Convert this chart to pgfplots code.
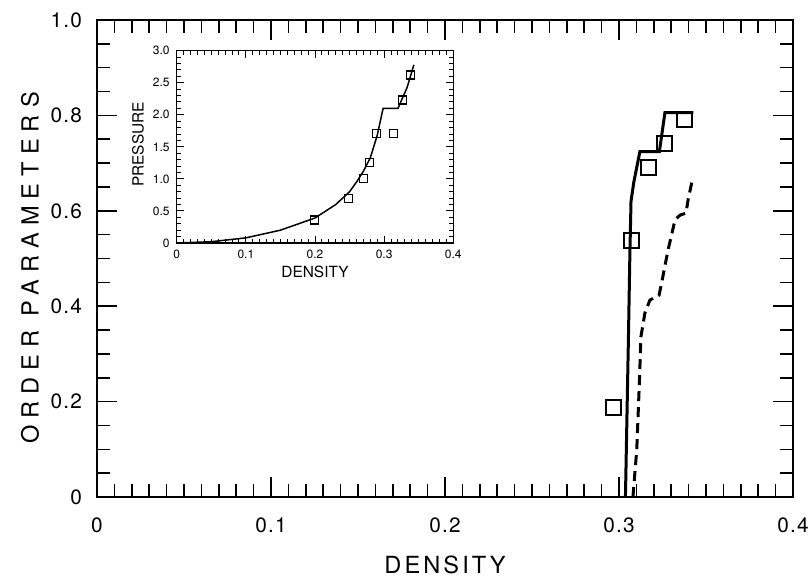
\documentclass[border=0pt]{standalone}
\usepackage{fontspec}
\setmainfont{TeX Gyre Heros}
\newfontfamily\tickfont{TeX Gyre Heros}[LetterSpace=6]
\newfontfamily\labfont{TeX Gyre Heros}[LetterSpace=13]
\newfontfamily\ylabfont{TeX Gyre Heros}[LetterSpace=30]
\usepackage{pgfplots}
\pgfplotsset{compat=1.18}
\begin{document}
\begin{tikzpicture}
\useasboundingbox (0pt,0pt) rectangle (406pt,289pt);
\begin{axis}[
  at={(48.5pt,40.5pt)}, anchor=south west, scale only axis,
  width=348pt, height=238.5pt,
  xmin=0, xmax=0.4, ymin=0, ymax=1,
  xtick={0,0.1,0.2,0.3,0.4}, xticklabels={0,0.1,0.2,0.3,0.4},
  ytick={0,0.2,0.4,0.6,0.8,1.0}, yticklabels={0,0.2,0.4,0.6,0.8,1.0},
  minor x tick num=9, minor y tick num=3,
  tick align=inside, tick pos=both,
  major tick length=10pt, minor tick length=6.5pt,
  axis line style={line width=1pt},
  every tick/.style={black, line width=0.8pt},
  tick label style={font=\tickfont\fontsize{10.4}{12}\selectfont},
  xticklabel style={yshift=-7pt},
  yticklabel style={xshift=-4pt},
  every axis x label/.style={at={(axis description cs:0.5,0)}, anchor=center, yshift=-34pt, font=\labfont\fontsize{11.8}{14}\selectfont},
  every axis y label/.style={at={(axis description cs:0,0.48)}, anchor=center, xshift=-33.5pt, rotate=90, font=\ylabfont\fontsize{11.8}{14}\selectfont},
  xlabel={DENSITY}, ylabel={ORDER PARAMETERS},
  clip=false,
]
\addplot[black, line width=1.5pt] coordinates {
 (0.3037,0) (0.3055,0.35) (0.3062,0.50) (0.3069,0.62) (0.3085,0.66)
 (0.3120,0.724) (0.3232,0.724) (0.3264,0.806) (0.3427,0.806)};
\addplot[black, line width=1.5pt, dash pattern=on 5pt off 3pt] coordinates {
 (0.3080,0) (0.3102,0.099) (0.3117,0.239) (0.3126,0.336) (0.3149,0.386)
 (0.3178,0.413) (0.3230,0.423) (0.3245,0.449) (0.3282,0.518) (0.3322,0.581)
 (0.3351,0.591) (0.3385,0.595) (0.3397,0.623) (0.3425,0.671)};
\addplot[only marks, mark=square, mark size=3.75pt, mark options={line width=1pt, fill=white}] coordinates {
 (0.2970,0.187) (0.3073,0.537) (0.3172,0.691) (0.3264,0.741) (0.3379,0.792)};
\end{axis}
\begin{axis}[
  at={(88.35pt,167.5pt)}, anchor=south west, scale only axis,
  width=138.3pt, height=96.15pt,
  xmin=0, xmax=0.4, ymin=0, ymax=3,
  xtick={0,0.1,0.2,0.3,0.4}, xticklabels={0,0.1,0.2,0.3,0.4},
  ytick={0,0.5,1,1.5,2,2.5,3}, yticklabels={0,0.5,1.0,1.5,2.0,2.5,3.0},
  minor x tick num=9, minor y tick num=4,
  tick align=inside, tick pos=both,
  major tick length=3.5pt, minor tick length=2pt,
  axis line style={line width=0.7pt},
  every tick/.style={black, line width=0.5pt},
  tick label style={font=\fontsize{6}{7}\selectfont},
  axis background/.style={fill=white},
  every axis x label/.style={at={(axis description cs:0.5,0)}, anchor=center, yshift=-14.35pt, font=\fontsize{7.7}{9}\selectfont},
  every axis y label/.style={at={(axis description cs:0,0.512)}, anchor=center, xshift=-19.35pt, rotate=90, font=\fontsize{7.7}{9}\selectfont},
  xlabel={DENSITY}, ylabel={PRESSURE},
  clip=false,
]
\addplot[black, line width=0.75pt] coordinates {
 (0,0) (0.05,0.02) (0.10,0.08) (0.15,0.20) (0.20,0.39) (0.23,0.60)
 (0.25,0.80) (0.26,0.95) (0.27,1.12) (0.28,1.33) (0.29,1.68) (0.2985,2.10)
 (0.320,2.10) (0.326,2.25) (0.333,2.42) (0.338,2.60) (0.343,2.78)};
\addplot[only marks, mark=square, mark size=2pt, mark options={line width=0.6pt, fill=white}] coordinates {
 (0.199,0.36) (0.249,0.70) (0.270,1.01) (0.279,1.255) (0.289,1.71)
 (0.3135,1.71) (0.3265,2.23) (0.3384,2.62)};
\end{axis}
\end{tikzpicture}
\end{document}
